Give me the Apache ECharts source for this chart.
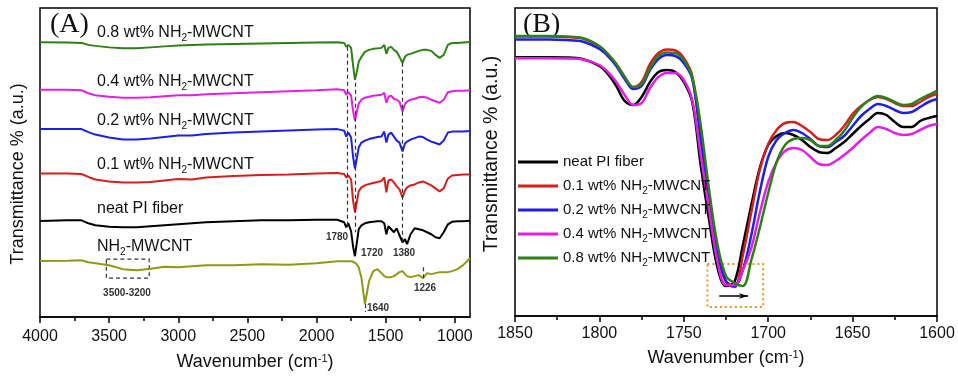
<!DOCTYPE html>
<html>
<head>
<meta charset="utf-8">
<script src="https://cdn.jsdelivr.net/npm/echarts@6/dist/echarts.min.js"></script>
<style>
  html, body { margin: 0; padding: 0; background: #fff; }
  #chart { width: 958px; height: 376px; }
</style>
</head>
<body>
<div id="chart"></div>
<script>
// ---- panel A: full FTIR spectra (offset, a.u.) ----
const waveA = [4000, 3800, 3700, 3650, 3600, 3500, 3400, 3300, 3200, 3100,
  3000, 2900, 2800, 2600, 2400, 2200, 2000, 1850, 1800, 1785,
  1770, 1750, 1735, 1722, 1710, 1695, 1675, 1650, 1620, 1590,
  1560, 1530, 1510, 1495, 1480, 1460, 1440, 1420, 1400, 1378,
  1360, 1345, 1320, 1290, 1260, 1230, 1200, 1170, 1140, 1110,
  1080, 1050, 1020, 980, 940, 890];

const wt08A = [275.7, 275.5, 275, 273, 272, 270.5, 269.5, 269.5, 270.5, 271.5,
  272.5, 273, 273.5, 274, 274.5, 275, 275.5, 275.7, 275, 271,
  273, 270, 252, 238, 245, 256, 261, 266, 268, 269,
  269.5, 270, 273, 264, 270, 271, 268, 266, 261, 255,
  261, 263, 264, 265.5, 267, 268, 268, 267, 263, 260,
  263, 273, 275, 275, 275.5, 276];
const wt04A = [228, 228, 227.5, 224.5, 222.5, 221, 220, 220, 220.5, 221.5,
  222.5, 222.5, 223.5, 224.5, 225.5, 226.5, 227.5, 228.5, 227.5, 223,
  225.5, 222, 206, 197, 205, 214, 218, 220, 221, 222,
  222.5, 223, 225, 215, 221, 222, 219, 218, 216, 206,
  214, 216, 218, 219, 220.5, 221, 220, 218, 216.5, 215,
  218, 225.5, 226.5, 227, 227, 227.5];
const wt02A = [188.7, 188.7, 188.5, 185.5, 183, 180, 178, 178, 179, 180.5,
  182, 182, 183.5, 185, 186, 187, 188, 188.5, 187, 181,
  185, 180, 160, 149, 158, 170, 175, 177, 178.5, 179.5,
  180.5, 181, 186, 175, 183, 185, 181, 177, 175, 166,
  174, 176, 178, 179.5, 181, 180.5, 178, 176, 174.5, 173,
  177, 185, 186, 186, 186, 186.5];
const wt01A = [144, 144, 143.5, 140.5, 138, 136, 135, 135, 135.5, 137,
  138.5, 138, 140, 141.5, 142.5, 143, 144, 144.5, 143.5, 140,
  142, 138, 116, 105, 114, 126, 130, 132, 133.5, 134.5,
  135.5, 136.5, 140, 125, 137, 138, 135, 131, 128, 120,
  127, 130, 132, 133, 135, 136, 134, 132, 129, 126,
  129, 139, 142, 142.5, 143, 143];
const neatA = [96.3, 97, 97, 94, 92, 90.5, 90, 90, 91, 92,
  93, 94, 95, 96, 97, 97, 97.5, 97.5, 95, 90,
  94, 86, 70, 61, 73, 88, 92, 94, 95, 95.5,
  96, 96, 94, 83, 91, 88, 85, 89, 82, 75,
  78, 73, 83, 89, 88, 87, 85, 83, 80, 79,
  85, 93, 95.5, 96, 96, 96.5];
const cntA = [56.3, 56.5, 57, 55, 54, 52, 48, 47, 48.5, 50.5,
  50, 51, 52, 52, 53, 52.5, 54, 56, 56, 56,
  56, 56, 55.5, 54, 53, 50, 39, 13, 36, 46,
  48, 44, 41, 40, 40, 40, 41, 43, 45, 46,
  43, 41, 40, 41, 42, 39, 44, 43, 44, 45,
  45, 45, 46, 48, 52, 59];

const ticksA = [1000, 1500, 2000, 2500, 3000, 3500, 4000];
const minorTicksA = [1250, 1750, 2250, 2750, 3250, 3750];

// dashed guide lines: [wavenumber, from, to]
const peakLinesA = [[1780, 271, 92], [1720, 235, 85], [1380, 255, 75], [1226, 50, 38], [1645, 13, 5]];
const boxA = [[3520, 58], [3210, 39]];

// ---- panel B: 1850-1600 zoom ----
const waveB = [1850, 1840, 1830, 1820, 1810, 1800, 1795, 1790, 1785, 1780,
  1775, 1770, 1765, 1760, 1755, 1750, 1745, 1740, 1735, 1730,
  1725, 1720, 1715, 1710, 1705, 1700, 1695, 1690, 1685, 1680,
  1675, 1670, 1665, 1660, 1655, 1650, 1645, 1640, 1635, 1630,
  1625, 1620, 1615, 1610, 1605, 1600];

const neatB = [258.7, 258.7, 258.7, 258.5, 257, 250, 242, 230, 215, 211,
  219, 234, 244, 246, 244, 234, 214, 151, 96, 48,
  30, 34, 71, 111, 148, 171, 180, 183, 181, 176,
  169, 164, 163, 168, 174, 182, 190, 197, 203, 201,
  194, 189, 189, 195, 198, 200];
const wt01B = [279.5, 279.5, 279.5, 279, 277.5, 269.5, 262, 252, 239, 229,
  234, 252, 263, 266.5, 265.5, 258, 240, 176, 116, 60,
  34, 29, 61, 104, 146, 172, 186, 193, 194, 190,
  184, 177, 176, 181, 190, 202, 210, 216, 219, 217,
  213, 210, 210, 214, 219, 222];
const wt02B = [276.5, 276.5, 276.5, 276, 274.5, 267, 260, 250, 237, 227,
  230, 246, 257, 261, 260, 253, 237, 179, 119, 63,
  35, 30, 46, 81, 124, 159, 176, 183, 186, 183,
  177, 170, 169, 174, 180, 190, 200, 207, 212, 210,
  206, 203, 204, 209, 214, 217];
const wt04B = [257.7, 257.7, 257.7, 257.5, 256.5, 251, 244, 234, 221, 211,
  213, 228, 239, 243, 243, 236, 216, 161, 106, 54,
  31, 31, 46, 68, 103, 134, 154, 165, 168, 166,
  159, 152, 151, 155, 161, 168, 176, 183, 189, 187,
  183, 181, 182, 186, 190, 192];
const wt08B = [280, 280, 280, 279.5, 278, 270, 262, 252, 239, 229,
  232, 248, 260, 263.5, 263, 256, 239, 191, 126, 71,
  40, 33, 30, 56, 88, 123, 154, 171, 177, 178,
  176, 170, 170, 176, 185, 198, 209, 216, 220, 218,
  214, 211, 212, 217, 221, 225];

const boxB = [[1736, 52], [1703, 9]];
const arrowB = [[1729, 20], [1712, 20]];

const NAMES = ['neat PI fiber', '0.1 wt% NH2-MWCNT', '0.2 wt% NH2-MWCNT', '0.4 wt% NH2-MWCNT', '0.8 wt% NH2-MWCNT'];
const COLORS = ['#000000', '#d61e1e', '#1e1ee8', '#e41ee4', '#2f7f17'];
const CNT_COLOR = '#8e9a14';
const FONT = 'Liberation Sans';

const pairs = (xs, ys) => xs.map((x, i) => [x, ys[i]]);
const subText = (s) => s.replace('NH2', 'NH{sub|2}');
const RICH = {
  sub: { fontSize: 10, lineHeight: 8, verticalAlign: 'bottom', fontFamily: FONT },
  sup: { fontSize: 11, lineHeight: 11, verticalAlign: 'top', fontFamily: FONT }
};

const chart = echarts.init(document.getElementById('chart'));

const seriesA = [
  { name: 'A-cnt', data: pairs(waveA, cntA), color: CNT_COLOR },
  { name: 'A-neat', data: pairs(waveA, neatA), color: COLORS[0] },
  { name: 'A-0.1', data: pairs(waveA, wt01A), color: COLORS[1] },
  { name: 'A-0.2', data: pairs(waveA, wt02A), color: COLORS[2] },
  { name: 'A-0.4', data: pairs(waveA, wt04A), color: COLORS[3] },
  { name: 'A-0.8', data: pairs(waveA, wt08A), color: COLORS[4] }
].map((s) => ({
  type: 'line', name: s.name, xAxisIndex: 0, yAxisIndex: 0,
  data: s.data, symbol: 'none', color: s.color,
  lineStyle: { width: 2, color: s.color }
}));

seriesA[1].markLine = {
  silent: true, symbol: 'none', animation: false,
  label: { show: false },
  lineStyle: { type: [4, 3], color: '#333', width: 1.2 },
  data: peakLinesA.map(([x, a, b]) => [{ coord: [x, a] }, { coord: [x, b] }])
};
seriesA[0].markArea = {
  silent: true,
  itemStyle: { color: 'rgba(0,0,0,0)', borderColor: '#333', borderWidth: 1.2, borderType: [4, 3] },
  data: [[{ coord: boxA[0] }, { coord: boxA[1] }]]
};

const seriesB = [neatB, wt01B, wt02B, wt04B, wt08B].map((vals, i) => ({
  type: 'line', name: NAMES[i], xAxisIndex: 2, yAxisIndex: 1,
  data: pairs(waveB, vals), symbol: 'none', smooth: 0.35,
  color: COLORS[i], lineStyle: { width: 2.5, color: COLORS[i] }
}));
seriesB[0].markArea = {
  silent: true,
  itemStyle: { color: 'rgba(0,0,0,0)', borderColor: '#e8922a', borderWidth: 2, borderType: [2, 3] },
  data: [[{ coord: boxB[0] }, { coord: boxB[1] }]]
};
seriesB[0].markLine = {
  silent: true, symbol: ['none', 'arrow'], symbolSize: [4, 9], animation: false,
  label: { show: false },
  lineStyle: { type: 'solid', color: '#000', width: 1.5 },
  data: [[{ coord: arrowB[0] }, { coord: arrowB[1] }]]
};

const axisText = { color: '#111', fontSize: 16, fontFamily: FONT, formatter: (v) => String(v) };
const nameText = { color: '#111', fontSize: 18, fontFamily: FONT, rich: RICH };
const frameLine = { color: '#000', width: 1.5 };

const label = (text, x, y, extra) => ({
  type: 'text', x, y, silent: true,
  style: Object.assign({
    text, fill: '#111', fontSize: 16, fontFamily: FONT, lineHeight: 20,
    align: 'left', verticalAlign: 'middle', rich: RICH
  }, extra || {})
});
const peakLabel = (text, x, y) => label(text, x, y, {
  fontSize: 10, fontWeight: 'bold', fill: '#333', align: 'center', lineHeight: 12
});

chart.setOption({
  animation: false,
  backgroundColor: '#fff',
  grid: [
    { left: 40, top: 8, width: 430, height: 310, show: true, borderColor: '#000', borderWidth: 1.5 },
    { left: 515, top: 8, width: 422, height: 308, show: true, borderColor: '#000', borderWidth: 1.5 }
  ],
  xAxis: [
    {
      gridIndex: 0, type: 'value', inverse: true, min: 890, max: 4000, position: 'bottom',
      axisLine: { lineStyle: frameLine },
      axisTick: { customValues: ticksA, length: 6, lineStyle: frameLine },
      axisLabel: Object.assign({ customValues: ticksA, margin: 12 }, axisText),
      splitLine: { show: false },
      name: 'Wavenumber (cm{sup|-1})', nameLocation: 'middle', nameGap: 36, nameTextStyle: nameText
    },
    {
      gridIndex: 0, type: 'value', inverse: true, min: 890, max: 4000, position: 'bottom',
      axisLine: { show: false },
      axisTick: { customValues: minorTicksA, length: 4, lineStyle: frameLine },
      axisLabel: { show: false }, splitLine: { show: false }
    },
    {
      gridIndex: 1, type: 'value', inverse: true, min: 1600, max: 1850, interval: 50,
      axisLine: { lineStyle: frameLine },
      axisTick: { length: 6, lineStyle: frameLine },
      minorTick: { show: true, splitNumber: 2, length: 4, lineStyle: frameLine },
      axisLabel: Object.assign({ margin: 10 }, axisText),
      splitLine: { show: false },
      name: 'Wavenumber (cm{sup|-1})', nameLocation: 'middle', nameGap: 33, nameTextStyle: nameText
    }
  ],
  yAxis: [
    { gridIndex: 0, type: 'value', min: 0, max: 310, show: false },
    { gridIndex: 1, type: 'value', min: 0, max: 308, show: false }
  ],
  legend: {
    data: NAMES, orient: 'vertical', left: 518, top: 152, padding: 0,
    icon: 'rect', itemWidth: 40, itemHeight: 3, itemGap: 4, selectedMode: false,
    formatter: subText,
    textStyle: { color: '#111', fontSize: 15, fontFamily: FONT, lineHeight: 20, rich: RICH }
  },
  graphic: [
    label('(A)', 50, 25, { fontSize: 28, fontFamily: 'Liberation Serif', lineHeight: 30 }),
    label('(B)', 523, 25, { fontSize: 28, fontFamily: 'Liberation Serif', lineHeight: 30 }),
    label(subText('0.8 wt% NH2-MWCNT'), 97, 33),
    label(subText('0.4 wt% NH2-MWCNT'), 97, 82),
    label(subText('0.2 wt% NH2-MWCNT'), 97, 121),
    label(subText('0.1 wt% NH2-MWCNT'), 97, 165),
    label('neat PI fiber', 97, 209),
    label(subText('NH2-MWCNT'), 97, 247),
    peakLabel('1780', 337, 237),
    peakLabel('1720', 372, 253),
    peakLabel('1380', 404, 253),
    peakLabel('3500-3200', 127, 293),
    peakLabel('1640', 378, 308),
    peakLabel('1226', 425, 288),
    Object.assign(label('Transmittance % (a.u.)', 18, 174, { fontSize: 18, align: 'center' }), { rotation: Math.PI / 2 }),
    Object.assign(label('Transmittance % (a.u.)', 492, 154, { fontSize: 19.5, align: 'center' }), { rotation: Math.PI / 2 })
  ],
  series: seriesA.concat(seriesB)
});
</script>
</body>
</html>
